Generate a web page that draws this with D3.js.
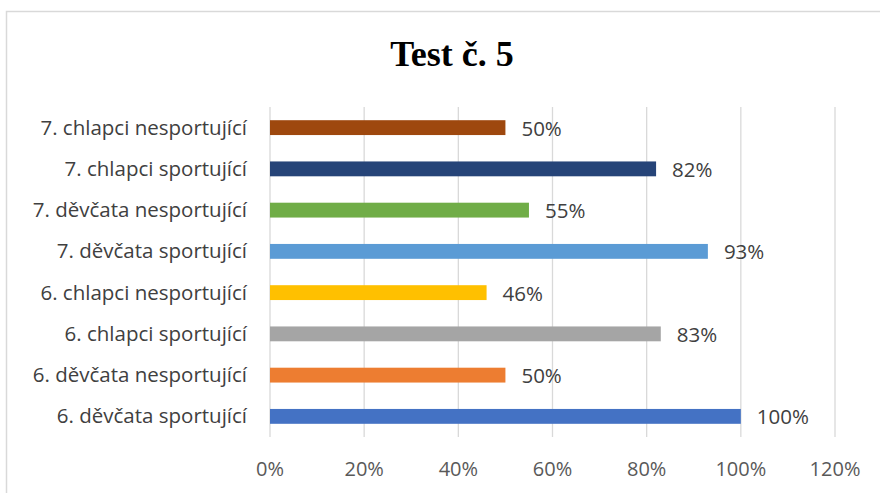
<!DOCTYPE html>
<html>
<head>
<meta charset="utf-8">
<script src="https://cdn.jsdelivr.net/npm/d3@7"></script>
<style>
  body { margin: 0; background: #fff; }
</style>
</head>
<body>
<svg width="880" height="493"></svg>
<script>
// data, top row first
var categories = [
    "7. chlapci nesportující",
    "7. chlapci sportující",
    "7. děvčata nesportující",
    "7. děvčata sportující",
    "6. chlapci nesportující",
    "6. chlapci sportující",
    "6. děvčata nesportující",
    "6. děvčata sportující"
];
var values = [50, 82, 55, 93, 46, 83, 50, 100];
var barColors = ["#9E480E", "#264478", "#70AD47", "#5B9BD5", "#FFC000", "#A5A5A5", "#ED7D31", "#4472C4"];
var ticks = [0, 20, 40, 60, 80, 100, 120];

var svg = d3.select('svg');
var font = "'Open Sans', 'Noto Sans', sans-serif";

// chart border
svg.append('rect')
    .attr('x', 6.5).attr('y', 11.5)
    .attr('width', 890).attr('height', 500)
    .attr('fill', 'none')
    .attr('stroke', '#d9d9d9')
    .attr('stroke-width', 1.5);

// title
svg.append('text')
    .attr('x', 452).attr('y', 66)
    .attr('text-anchor', 'middle')
    .attr('font-family', "'Liberation Serif', 'Times New Roman', serif")
    .attr('font-weight', 'bold')
    .attr('font-size', '36px')
    .text('Test č. 5');

var x = d3.scaleLinear().domain([0, 120]).range([270, 835]);
var y = d3.scaleBand().domain(categories).range([107, 437]).paddingInner(0.64).paddingOuter(0.32);

// gridlines
svg.append('g').selectAll('line')
    .data(ticks)
    .enter().append('line')
    .attr('x1', function(d) { return x(d); })
    .attr('x2', function(d) { return x(d); })
    .attr('y1', 107).attr('y2', 437)
    .attr('stroke', '#d9d9d9')
    .attr('stroke-width', 1.3);

// bars
svg.append('g').selectAll('rect')
    .data(categories)
    .enter().append('rect')
    .attr('x', x(0))
    .attr('y', function(d) { return y(d); })
    .attr('width', function(d, i) { return x(values[i]) - x(0); })
    .attr('height', y.bandwidth())
    .attr('fill', function(d, i) { return barColors[i]; });

// value labels
svg.append('g').selectAll('text')
    .data(categories)
    .enter().append('text')
    .attr('x', function(d, i) { return x(values[i]) + 16; })
    .attr('y', function(d) { return y(d) + y.bandwidth() / 2 + 8; })
    .attr('font-family', font)
    .attr('font-size', '20.5px')
    .attr('fill', '#404040')
    .text(function(d, i) { return values[i] + '%'; });

// category labels
svg.append('g').selectAll('text')
    .data(categories)
    .enter().append('text')
    .attr('x', 247)
    .attr('y', function(d) { return y(d) + y.bandwidth() / 2 + 7; })
    .attr('text-anchor', 'end')
    .attr('font-family', font)
    .attr('font-size', '20.5px')
    .attr('fill', '#404040')
    .text(function(d) { return d; });

// x axis tick labels
svg.append('g').selectAll('text')
    .data(ticks)
    .enter().append('text')
    .attr('x', function(d) { return x(d); })
    .attr('y', 476)
    .attr('text-anchor', 'middle')
    .attr('font-family', font)
    .attr('font-size', '20px')
    .attr('fill', '#595959')
    .text(function(d) { return d + '%'; });
</script>
</body>
</html>
